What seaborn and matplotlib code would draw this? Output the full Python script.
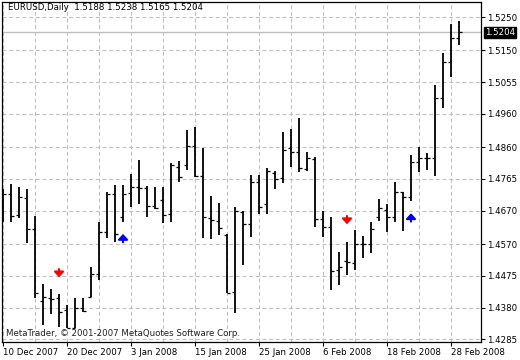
import numpy as np
import pandas as pd
import matplotlib
matplotlib.use("Agg")
import matplotlib.pyplot as plt
from matplotlib.transforms import offset_copy
import seaborn as sns

# ---- data ----
symbol_title = "EURUSD,Daily"
holidays = ["2007-12-25", "2008-01-01"]
dates = [d for d in pd.bdate_range("2007-12-10", "2008-02-29") if d.strftime("%Y-%m-%d") not in holidays]

opens = [1.4732, 1.4719, 1.4656, 1.4709, 1.4615, 1.4400, 1.4408, 1.4408, 1.4373, 1.4320,
         1.4380, 1.4413, 1.4480, 1.4607, 1.4719, 1.4650, 1.4722, 1.4740, 1.4737, 1.4684,
         1.4702, 1.4659, 1.4802, 1.4807, 1.4864, 1.4774, 1.4647, 1.4639, 1.4597, 1.4427,
         1.4667, 1.4630, 1.4757, 1.4689, 1.4784, 1.4767, 1.4857, 1.4845, 1.4794, 1.4824,
         1.4645, 1.4620, 1.4492, 1.4520, 1.4512, 1.4570, 1.4571, 1.4650, 1.4672, 1.4650,
         1.4725, 1.4710, 1.4817, 1.4829, 1.4828, 1.5009, 1.5116, 1.5188]
highs = [1.4735, 1.4750, 1.4742, 1.4735, 1.4654, 1.4451, 1.4436, 1.4421, 1.4388, 1.4410,
         1.4410, 1.4501, 1.4635, 1.4725, 1.4747, 1.4747, 1.4779, 1.4822, 1.4745, 1.4740,
         1.4742, 1.4812, 1.4819, 1.4912, 1.4921, 1.4857, 1.4714, 1.4692, 1.4600, 1.4680,
         1.4670, 1.4777, 1.4777, 1.4799, 1.4790, 1.4906, 1.4914, 1.4948, 1.4845, 1.4832,
         1.4669, 1.4650, 1.4545, 1.4575, 1.4612, 1.4594, 1.4635, 1.4704, 1.4689, 1.4757,
         1.4727, 1.4837, 1.4862, 1.4844, 1.5046, 1.5143, 1.5229, 1.5238]
lows = [1.4637, 1.4637, 1.4647, 1.4574, 1.4408, 1.4328, 1.4361, 1.4323, 1.4318, 1.4318,
        1.4368, 1.4411, 1.4463, 1.4589, 1.4577, 1.4637, 1.4682, 1.4690, 1.4652, 1.4674,
        1.4634, 1.4637, 1.4757, 1.4792, 1.4772, 1.4589, 1.4585, 1.4597, 1.4423, 1.4363,
        1.4507, 1.4590, 1.4659, 1.4659, 1.4734, 1.4752, 1.4800, 1.4787, 1.4790, 1.4620,
        1.4590, 1.4433, 1.4448, 1.4477, 1.4492, 1.4527, 1.4542, 1.4640, 1.4607, 1.4637,
        1.4610, 1.4700, 1.4787, 1.4792, 1.4775, 1.4979, 1.5071, 1.5165]
closes = [1.4719, 1.4655, 1.4710, 1.4615, 1.4424, 1.4411, 1.4406, 1.4368, 1.4320, 1.4380,
          1.4371, 1.4480, 1.4607, 1.4719, 1.4599, 1.4719, 1.4740, 1.4737, 1.4684, 1.4679,
          1.4656, 1.4807, 1.4772, 1.4864, 1.4774, 1.4650, 1.4642, 1.4617, 1.4424, 1.4670,
          1.4630, 1.4757, 1.4680, 1.4789, 1.4765, 1.4852, 1.4845, 1.4799, 1.4827, 1.4645,
          1.4620, 1.4489, 1.4501, 1.4517, 1.4570, 1.4571, 1.4614, 1.4679, 1.4650, 1.4725,
          1.4710, 1.4817, 1.4829, 1.4828, 1.5009, 1.5116, 1.5188, 1.5204]

up_arrow_idx = [15, 51]
up_arrow_price = [1.4588, 1.4650]
down_arrow_idx = [7, 43]
down_arrow_price = [1.4483, 1.4642]

price_ticks = [1.4285, 1.4380, 1.4475, 1.4570, 1.4670, 1.4765, 1.4860, 1.4960, 1.5055, 1.5150, 1.5250]
copyright_text = "MetaTrader, \u00a9 2001-2007 MetaQuotes Software Corp."

# ---- style ----
sns.set_theme(style="white")
plt.rcParams["font.family"] = ["DejaVu Sans"]
FS = 6.2

W, H = 520, 360
fig = plt.figure(figsize=(W / 100, H / 100), dpi=100)
fig.patch.set_facecolor("white")
ax = fig.add_axes([2 / W, 18 / H, 479 / W, 340 / H])
ax.set_facecolor("white")

x = np.arange(len(dates))
df = pd.DataFrame({"x": x, "open": opens, "high": highs, "low": lows, "close": closes})

# grid
grid_kw = dict(color="#c0c0c0", lw=0.8, linestyle=(0, (3.5, 2.5)))
ax.set_yticks(price_ticks)
ax.set_yticklabels([f"{v:.4f}" for v in price_ticks])
ax.set_xticks(x[::8])
ax.set_xticklabels([d.strftime("%-d %b %Y") for d in dates[::8]], ha="left")
ax.set_xticks(x[4::8], minor=True)
ax.grid(True, which="both", axis="x", **grid_kw)
ax.grid(True, which="major", axis="y", **grid_kw)
ax.set_axisbelow(True)

# current price line
ax.axhline(closes[-1], color="#c0c0c0", lw=1.0, zorder=1)

# OHLC bars
ax.vlines(df["x"], df["low"], df["high"], color="black", lw=1.3, zorder=3)
ax.hlines(df["open"], df["x"] - 0.42, df["x"], color="black", lw=0.9, zorder=3)
ax.hlines(df["close"], df["x"], df["x"] + 0.42, color="black", lw=0.9, zorder=3)

# signal arrows (thick Wingdings-like arrows)
up_tr = offset_copy(ax.transData, fig=fig, x=0, y=3.0, units="points")
lo_tr = offset_copy(ax.transData, fig=fig, x=0, y=-3.0, units="points")
astyle = "-|>,head_width=0.24,head_length=0.26"
for i, p in zip(up_arrow_idx, up_arrow_price):
    ax.annotate("", xy=(i, p), xycoords=up_tr, xytext=(i, p), textcoords=lo_tr,
                arrowprops=dict(arrowstyle=astyle, color="#0000ff", lw=1.5,
                                shrinkA=0, shrinkB=0), zorder=4)
for i, p in zip(down_arrow_idx, down_arrow_price):
    ax.annotate("", xy=(i, p), xycoords=lo_tr, xytext=(i, p), textcoords=up_tr,
                arrowprops=dict(arrowstyle=astyle, color="#ff0000", lw=1.5,
                                shrinkA=0, shrinkB=0), zorder=4)

ax.set_xlim(-0.125, 59.75)
ax.set_ylim(1.42769, 1.5295)

ax.yaxis.tick_right()
ax.tick_params(axis="y", which="major", right=True, left=False, length=3, width=0.8,
               pad=1.5, labelsize=FS, colors="black")
ax.tick_params(axis="x", which="major", bottom=True, length=3, width=0.8,
               pad=1.5, labelsize=FS, colors="black")
ax.tick_params(axis="x", which="minor", bottom=False)
for s in ax.spines.values():
    s.set_visible(True)
    s.set_color("black")
    s.set_linewidth(0.9)

# current price label
ax.annotate(f"{closes[-1]:.4f}", xy=(1, closes[-1]), xycoords=("axes fraction", "data"),
            xytext=(3.0, 0), textcoords="offset points", ha="left", va="center",
            fontsize=FS, color="white",
            bbox=dict(boxstyle="square,pad=0.12", fc="black", ec="black"))

# header and copyright
head = f"{symbol_title}  {opens[-1]:.4f} {highs[-1]:.4f} {lows[-1]:.4f} {closes[-1]:.4f}"
fig.text(8 / W, 1 - 8 / H, head, fontsize=FS, ha="left", va="center", color="black")
fig.text(6.5 / W, 1 - 334 / H, copyright_text, fontsize=FS, ha="left", va="center", color="#202020")

fig.savefig("out.png", dpi=100)
